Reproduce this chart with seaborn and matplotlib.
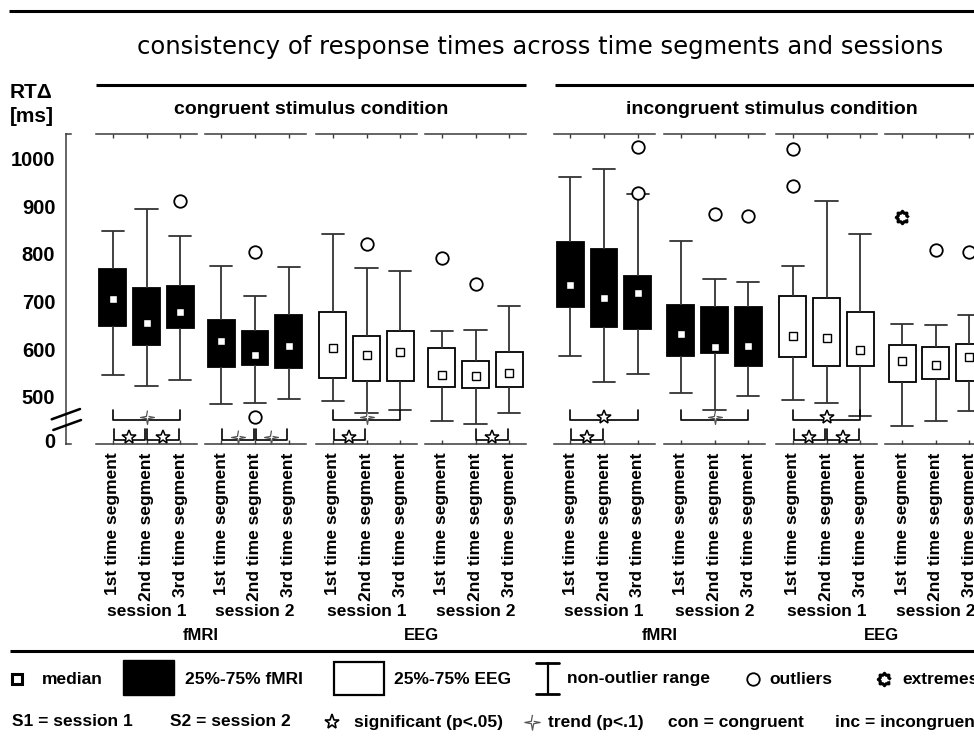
import numpy as np
import pandas as pd
import matplotlib
matplotlib.use("Agg")
import matplotlib.pyplot as plt
import seaborn as sns
from matplotlib.patches import Rectangle

sns.set_theme(style="white")
plt.rcParams['font.family'] = ['Liberation Sans', 'DejaVu Sans']
plt.rcParams['text.color'] = 'black'
plt.rcParams['xtick.color'] = 'black'
plt.rcParams['ytick.color'] = 'black'
plt.rcParams['axes.labelcolor'] = 'black'

# ---------------- data ----------------
segments = ["1st time segment", "2nd time segment", "3rd time segment"]
conditions = ["congruent stimulus condition", "incongruent stimulus condition"]
group_modality = ["fMRI", "fMRI", "EEG", "EEG", "fMRI", "fMRI", "EEG", "EEG"]
group_session = ["session 1", "session 2", "session 1", "session 2",
                 "session 1", "session 2", "session 1", "session 2"]

whisker_low = [[546, 523, 535], [485, 487, 495], [492, 466, 473], [448, 443, 466],
               [585, 531, 548], [508, 473, 501], [494, 486, 459], [439, 448, 469]]
q1 = [[649, 608, 644], [562, 567, 560], [539, 532, 534], [520, 518, 520],
      [688, 646, 642], [585, 591, 565], [583, 564, 564], [531, 537, 534]]
median = [[705, 654, 677], [616, 588, 606], [602, 588, 594], [546, 543, 550],
          [734, 708, 717], [632, 604, 606], [628, 624, 599], [575, 566, 583]]
q3 = [[768, 728, 732], [662, 639, 672], [679, 628, 637], [602, 574, 593],
      [826, 810, 754], [692, 688, 688], [712, 708, 679], [609, 605, 611]]
whisker_high = [[849, 894, 838], [775, 712, 773], [841, 770, 765], [639, 641, 691],
                [961, 979, 925], [828, 748, 741], [774, 912, 842], [652, 650, 671]]

# (group, segment, value)
outliers = [(0, 2, 911), (1, 1, 805), (1, 1, 458), (2, 1, 820), (3, 0, 792),
            (3, 1, 737), (4, 2, 1024), (4, 2, 927), (5, 1, 884), (5, 2, 879),
            (6, 0, 1020), (6, 0, 943), (7, 1, 809), (7, 2, 803)]
extremes = [(7, 0, 878)]

# significance brackets: (group, from segment, to segment, level, kind)
brackets = [(0, 0, 2, "big", "trend"), (2, 0, 2, "big", "trend"), (4, 0, 2, "big", "sig"),
            (5, 0, 2, "big", "trend"), (6, 0, 2, "big", "sig"),
            (0, 0, 1, "small", "sig"), (0, 1, 2, "small", "sig"),
            (1, 0, 1, "small", "trend"), (1, 1, 2, "small", "trend"),
            (2, 0, 1, "small", "sig"), (3, 1, 2, "small", "sig"),
            (4, 0, 1, "small", "sig"), (6, 0, 1, "small", "sig"), (6, 1, 2, "small", "sig")]

ytick_pos = [407, 500, 600, 700, 800, 900, 1000]
ytick_lab = ["0", "500", "600", "700", "800", "900", "1000"]

# ---------------- layout ----------------
W, H = 974, 743
fig = plt.figure(figsize=(W / 100, H / 100), dpi=100)
fig.patch.set_facecolor("white")

AX_TOP, AX_BOT = 134, 444
YLIM = (400.6, 1052)
group_left = [96, 204.5, 316, 425, 553.5, 664, 776, 885.3]
group_w = 101
SP = "#3a3a3a"

# marker shapes
a4 = np.pi / 2 + np.arange(8) * np.pi / 4
r4 = np.where(np.arange(8) % 2 == 0, 1.0, 0.22)
trend_marker = np.column_stack([r4 * np.cos(a4), r4 * np.sin(a4)])
ag = np.arange(16) * np.pi / 8
rg = np.where(np.arange(16) % 2 == 0, 1.0, 0.72)
gear_marker = np.column_stack([rg * np.cos(ag), rg * np.sin(ag)])


def draw_sig(ax, x, y, kind, size_sig=10, size_trend=10):
    if kind == "sig":
        ax.plot(x, y, marker="*", ms=size_sig, mfc="white", mec="black", mew=1.1,
                clip_on=False, zorder=6)
    else:
        ax.plot(x, y, marker=trend_marker, ms=size_trend, mfc="white", mec="#555555",
                mew=0.9, clip_on=False, zorder=6)


for g in range(8):
    ax = fig.add_axes([group_left[g] / W, 1 - AX_BOT / H, group_w / W, (AX_BOT - AX_TOP) / H])
    vals = np.column_stack([whisker_low[g], q1[g], median[g], q3[g], whisker_high[g]])
    df = pd.DataFrame({"segment": np.repeat(segments, 5), "RT": vals.ravel()})
    fill = "black" if group_modality[g] == "fMRI" else "white"
    sns.boxplot(data=df, x="segment", y="RT", order=segments, ax=ax, color=fill,
                saturation=1, linecolor="black", linewidth=1.3, width=0.8,
                whis=(0, 100), showfliers=False, capwidths=0.66,
                medianprops={"linewidth": 0},
                whiskerprops={"color": "#333333"}, capprops={"color": "#333333"})
    ax.plot(range(3), median[g], ls="none", marker="s", ms=5.5, mfc="white",
            mec="black", mew=1.0, zorder=5)
    for (gi, s, v) in outliers:
        if gi == g:
            ax.plot(s, v, marker="o", ms=9, mfc="white", mec="black", mew=1.3,
                    zorder=5, clip_on=False)
    for (gi, s, v) in extremes:
        if gi == g:
            ax.plot(s, v, marker=gear_marker, ms=9, mfc="white", mec="black", mew=2.2,
                    zorder=5, clip_on=False)
    for (gi, i, j, level, kind) in brackets:
        if gi != g:
            continue
        if level == "big":
            top, bot = 472, 451
            x0, x1 = i, j
        else:
            top, bot = 433, 410
            x0, x1 = i + 0.02, j - 0.04
        ax.plot([x0, x0, x1, x1], [top, bot, bot, top], color="black", lw=1.2,
                clip_on=False, zorder=4)
        draw_sig(ax, (x0 + x1) / 2, bot + 6, kind)

    ax.set_xlim(-0.5, 2.5)
    ax.set_ylim(*YLIM)
    ax.set_yticks([])
    ax.set_xlabel("")
    ax.set_ylabel("")
    ax.set_xticks(range(3))
    ax.set_xticklabels(segments, rotation=90, fontsize=12.5, fontweight="bold",
                       color="black")
    ax.tick_params(axis="x", top=True, bottom=True, direction="in", length=3,
                   width=1, color=SP, pad=6)
    for s in ["left", "right"]:
        ax.spines[s].set_visible(False)
    for s in ["top", "bottom"]:
        ax.spines[s].set_color(SP)
        ax.spines[s].set_linewidth(1.1)
    ax.patch.set_alpha(0)

# y axis
yax = fig.add_axes([65.7 / W, 1 - AX_BOT / H, 5 / W, (AX_BOT - AX_TOP) / H])
yax.set_ylim(*YLIM)
yax.set_xticks([])
yax.set_yticks(ytick_pos)
yax.set_yticklabels(ytick_lab, fontsize=14.5, fontweight="bold", color="black")
yax.tick_params(axis="y", length=0, pad=7.5)
yax.spines["right"].set_visible(False)
for s in ["left", "top", "bottom"]:
    yax.spines[s].set_color(SP)
    yax.spines[s].set_linewidth(1.1)
yax.patch.set_alpha(0)

# overlay in pixel coordinates
ov = fig.add_axes([0, 0, 1, 1], zorder=10)
ov.set_xlim(0, W)
ov.set_ylim(H, 0)
ov.axis("off")
ov.patch.set_alpha(0)

LW = 2.2
ov.plot([9, W], [11, 11], color="black", lw=LW, solid_capstyle="butt")
ov.plot([96, 526], [85, 85], color="black", lw=LW, solid_capstyle="butt")
ov.plot([555, 990], [85, 85], color="black", lw=LW, solid_capstyle="butt")
ov.plot([10, W], [651, 651], color="black", lw=LW, solid_capstyle="butt")

ov.text(540, 47, "consistency of response times across time segments and sessions",
        ha="center", va="center", fontsize=17.5, family=["DejaVu Sans"])
ov.text(311, 110, conditions[0], ha="center", va="center", fontsize=14, fontweight="bold")
ov.text(772, 110, conditions[1], ha="center", va="center", fontsize=14, fontweight="bold")
ov.text(10, 93, "RTΔ", ha="left", va="center", fontsize=15, fontweight="bold")
ov.text(10, 117, "[ms]", ha="left", va="center", fontsize=15, fontweight="bold")

# axis break
ov.plot([51.7, 80], [419.3, 409], color="black", lw=1.8)
ov.plot([53.3, 81], [430, 420], color="black", lw=1.8)

for g in range(8):
    ov.text(group_left[g] + group_w / 2, 612, group_session[g], ha="center", va="center",
            fontsize=12.5, fontweight="bold")
for k in range(4):
    cx = (group_left[2 * k] + group_left[2 * k + 1] + group_w) / 2
    ov.text(cx, 636, group_modality[2 * k], ha="center", va="center",
            fontsize=12, fontweight="bold")

# legend row 1
Y1, Y2 = 679, 722
FS = 12.5
ov.plot(17, Y1, marker="s", ms=7.5, mfc="white", mec="black", mew=2.2)
ov.text(42, Y1, "median", ha="left", va="center", fontsize=FS, fontweight="bold")
ov.add_patch(Rectangle((123.3, 660), 51, 35, facecolor="black", edgecolor="black"))
ov.text(185, Y1, "25%-75% fMRI", ha="left", va="center", fontsize=FS, fontweight="bold")
ov.add_patch(Rectangle((333.5, 662), 50, 33, facecolor="white", edgecolor="black", lw=1.6))
ov.text(394, Y1, "25%-75% EEG", ha="left", va="center", fontsize=FS, fontweight="bold")
ov.plot([547.5, 547.5], [663, 694], color="black", lw=1.6)
ov.plot([536, 559], [663, 663], color="black", lw=2.0)
ov.plot([536, 559], [694, 694], color="black", lw=2.0)
ov.text(567, Y1, "non-outlier range", ha="left", va="center", fontsize=FS, fontweight="bold")
ov.plot(752.7, Y1, marker="o", ms=9, mfc="white", mec="black", mew=1.3)
ov.text(769, Y1, "outliers", ha="left", va="center", fontsize=FS, fontweight="bold")
ov.plot(884, Y1, marker=gear_marker, ms=9, mfc="white", mec="black", mew=2.2)
ov.text(902, Y1, "extremes", ha="left", va="center", fontsize=FS, fontweight="bold")

# legend row 2
ov.text(12, Y2, "S1 = session 1", ha="left", va="center", fontsize=FS, fontweight="bold")
ov.text(170.5, Y2, "S2 = session 2", ha="left", va="center", fontsize=FS, fontweight="bold")
ov.plot(332.3, Y2, marker="*", ms=11, mfc="white", mec="black", mew=1.2)
ov.text(354, Y2, "significant (p<.05)", ha="left", va="center", fontsize=FS, fontweight="bold")
ov.plot(531.7, Y2, marker=trend_marker, ms=11, mfc="white", mec="#555555", mew=0.9)
ov.text(548, Y2, "trend (p<.1)", ha="left", va="center", fontsize=FS, fontweight="bold")
ov.text(667.5, Y2, "con = congruent", ha="left", va="center", fontsize=FS, fontweight="bold")
ov.text(835, Y2, "inc = incongruent", ha="left", va="center", fontsize=FS, fontweight="bold")

fig.savefig("out.png", dpi=100)
